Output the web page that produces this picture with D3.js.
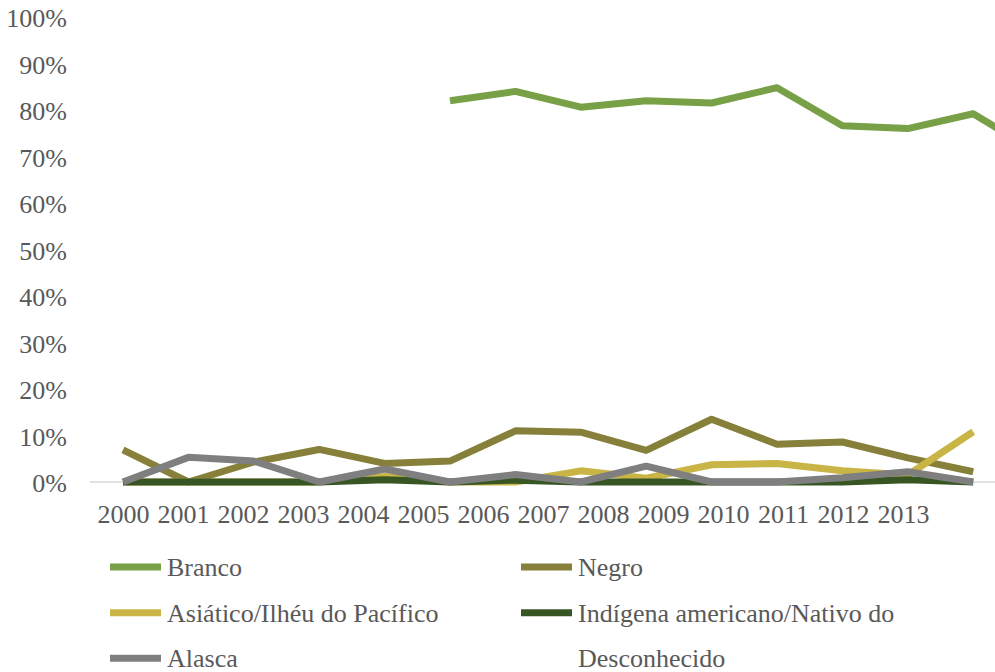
<!DOCTYPE html>
<html>
<head>
<meta charset="utf-8">
<script src="https://cdn.jsdelivr.net/npm/d3@7/dist/d3.min.js"></script>
<style>
  html, body { margin: 0; padding: 0; background: #ffffff; }
  svg { display: block; }
  text { font-family: "Liberation Serif", "Times New Roman", serif; fill: #595959; }
</style>
</head>
<body>
<svg id="chart" width="995" height="672"></svg>
<script>
// Years on the category axis
const years = [2000, 2001, 2002, 2003, 2004, 2005, 2006, 2007, 2008, 2009, 2010, 2011, 2012, 2013, 2014];
const yearLabels = ["2000", "2001", "2002", "2003", "2004", "2005", "2006", "2007", "2008", "2009", "2010", "2011", "2012", "2013"];
const yTicks = [0, 0.1, 0.2, 0.3, 0.4, 0.5, 0.6, 0.7, 0.8, 0.9, 1.0];

// Share of each group per year (percent)
const brancoYears = [2005, 2006, 2007, 2008, 2009, 2010, 2011, 2012, 2013, 2014];
const branco = [82.0, 84.0, 80.6, 82.0, 81.5, 84.8, 76.6, 76.0, 79.2, 70.7];
const groupYears = [2000, 2001, 2002, 2003, 2004, 2005, 2006, 2007, 2008, 2009, 2010, 2011, 2012, 2013];
const negro = [6.9, 0.0, 4.3, 7.0, 4.0, 4.5, 11.0, 10.7, 6.8, 13.5, 8.1, 8.6, 5.2, 2.2];
const asiatico = [0.0, 0.0, 0.0, 0.0, 1.2, 0.0, 0.0, 2.4, 0.8, 3.7, 4.0, 2.4, 1.5, 10.8];
const indigena = [0.0, 0.0, 0.0, 0.0, 0.5, 0.0, 0.4, 0.0, 0.0, 0.0, 0.0, 0.0, 0.5, 0.0];
const desconhecido = [0.0, 5.3, 4.5, 0.0, 2.8, 0.0, 1.6, 0.0, 3.4, 0.0, 0.0, 0.9, 2.2, 0.0];

const seriesNames = ["Branco", "Negro", "Asiático/Ilhéu do Pacífico", "Indígena americano/Nativo do Alasca", "Desconhecido"];
const seriesColors = ["#77a047", "#86803a", "#c9b446", "#375623", "#7f7f7f"];

// Legend entries as laid out (text wraps across the slots)
const legendLabels = ["Branco", "Negro", "Asiático/Ilhéu do Pacífico", "Indígena americano/Nativo do", "Alasca", "Desconhecido"];
const legendSwatches = ["#77a047", "#86803a", "#c9b446", "#375623", "#7f7f7f", null];

const svg = d3.select("#chart");

const y = d3.scaleLinear().domain([0, 1]).range([482, 17]);
const x = d3.scalePoint().domain(years).range([123, 1038.6]);
const xLabels = d3.scalePoint().domain(yearLabels).range([123, 903]);

// Baseline
svg.append("line")
  .attr("x1", 90).attr("x2", 995)
  .attr("y1", y(0)).attr("y2", y(0))
  .attr("stroke", "#d9d9d9").attr("stroke-width", 1.5);

// Y axis labels
const yAxis = d3.axisLeft(y).tickValues(yTicks).tickFormat(d3.format(".0%")).tickSize(0).tickPadding(0);
const gy = svg.append("g").attr("transform", "translate(67,0)").call(yAxis);
gy.select(".domain").remove();
gy.selectAll("text")
  .attr("dy", "0.37em")
  .style("font-family", "'Liberation Serif', 'Times New Roman', serif")
  .style("font-size", "26px")
  .style("fill", "#595959");

// X axis labels
const xAxis = d3.axisBottom(xLabels).tickSize(0).tickPadding(0);
const gx = svg.append("g").attr("transform", "translate(0,503)").call(xAxis);
gx.select(".domain").remove();
gx.selectAll("text")
  .attr("dy", "0.76em")
  .style("font-family", "'Liberation Serif', 'Times New Roman', serif")
  .style("font-size", "26px")
  .style("fill", "#595959");

// Lines
const line = d3.line()
  .x(d => x(d.year))
  .y(d => y(d.value / 100));

const seriesData = [
  { years: brancoYears, values: branco },
  { years: groupYears, values: negro },
  { years: groupYears, values: asiatico },
  { years: groupYears, values: indigena },
  { years: groupYears, values: desconhecido }
];

seriesData.forEach((s, i) => {
  const pts = s.years.map((yr, j) => ({ year: yr, value: s.values[j] }));
  svg.append("path")
    .datum(pts)
    .attr("d", line)
    .attr("fill", "none")
    .attr("stroke", seriesColors[i])
    .attr("stroke-width", 7)
    .attr("stroke-linejoin", "round")
    .attr("stroke-linecap", "butt")
    .attr("data-name", seriesNames[i]);
});

// Legend
const legendCols = [110, 521];
const legendRows = [567, 612.7, 658.3];
legendLabels.forEach((label, i) => {
  const cx = legendCols[i % 2];
  const cy = legendRows[Math.floor(i / 2)];
  const g = svg.append("g").attr("transform", `translate(${cx},${cy})`);
  if (legendSwatches[i]) {
    g.append("line")
      .attr("x1", 0).attr("x2", 51)
      .attr("y1", 0).attr("y2", 0)
      .attr("stroke", legendSwatches[i])
      .attr("stroke-width", 7);
  }
  g.append("text")
    .attr("x", 57)
    .attr("y", 9)
    .style("font-size", "26px")
    .text(label);
});
</script>
</body>
</html>
